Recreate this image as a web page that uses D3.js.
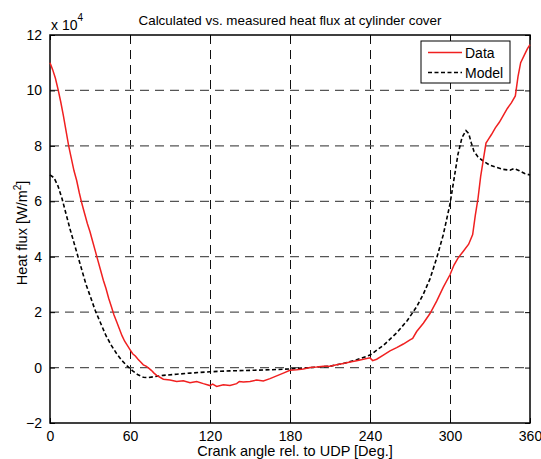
<!DOCTYPE html>
<html>
<head>
<meta charset="utf-8">
<script src="https://cdn.jsdelivr.net/npm/d3@7"></script>
<style>
  body { margin: 0; background: #fff; }
  text { font-family: "Liberation Sans", Arial, sans-serif; fill: #000; }
</style>
</head>
<body>
<div id="container"></div>
<script>
// values in units of 1e4 W/m^2
let dataAngle = [0, 2, 4, 6, 8, 10, 12, 14, 16, 18, 20, 22, 24, 26, 28, 30, 32, 34, 36, 38, 40, 42, 44, 46, 48, 50, 52, 54, 56, 58, 60, 62, 64, 66, 68, 70, 72, 74, 76, 78, 80, 85, 90, 95, 100, 105, 110, 115, 120, 122, 125, 130, 135, 140, 142, 145, 150, 155, 160, 165, 170, 175, 180, 185, 190, 195, 200, 205, 210, 215, 220, 225, 230, 235, 240, 242, 245, 250, 255, 260, 265, 270, 272, 275, 280, 285, 290, 295, 300, 303, 306, 310, 314, 317, 319, 321, 323, 325, 327, 329, 331, 334, 337, 340, 343, 346, 349, 351, 353, 356, 358, 360];
let dataFlux = [11.0, 10.75, 10.45, 10.05, 9.6, 9.1, 8.55, 8.0, 7.55, 7.1, 6.75, 6.3, 5.9, 5.55, 5.2, 4.9, 4.55, 4.2, 3.85, 3.5, 3.15, 2.85, 2.5, 2.2, 1.9, 1.65, 1.4, 1.15, 0.95, 0.8, 0.65, 0.5, 0.42, 0.3, 0.2, 0.1, 0.05, -0.02, -0.1, -0.2, -0.28, -0.42, -0.45, -0.5, -0.48, -0.55, -0.5, -0.58, -0.65, -0.6, -0.68, -0.62, -0.65, -0.58, -0.5, -0.52, -0.5, -0.45, -0.48, -0.4, -0.3, -0.2, -0.1, -0.08, -0.05, 0.0, 0.02, 0.05, 0.05, 0.1, 0.15, 0.2, 0.25, 0.3, 0.35, 0.25, 0.3, 0.45, 0.6, 0.72, 0.85, 1.0, 1.05, 1.3, 1.6, 1.95, 2.4, 2.9, 3.35, 3.7, 3.95, 4.2, 4.45, 4.8, 5.5, 6.1, 6.9, 7.5, 8.1, 8.25, 8.4, 8.65, 8.85, 9.1, 9.35, 9.55, 9.8, 10.5, 11.0, 11.3, 11.5, 11.65];

let modelAngle = [0, 3, 6, 9, 12, 15, 18, 21, 24, 27, 30, 34, 38, 42, 46, 50, 54, 58, 62, 66, 70, 74, 78, 85, 95, 105, 120, 135, 150, 165, 180, 195, 210, 220, 230, 240, 250, 260, 268, 275, 280, 285, 290, 295, 300, 303, 306, 309, 312, 314, 316, 318, 321, 325, 330, 335, 340, 345, 348, 352, 356, 360];
let modelFlux = [6.95, 6.85, 6.55, 6.1, 5.55, 5.0, 4.5, 4.0, 3.5, 3.0, 2.6, 2.05, 1.6, 1.15, 0.8, 0.5, 0.25, 0.05, -0.12, -0.26, -0.35, -0.36, -0.33, -0.28, -0.24, -0.2, -0.15, -0.12, -0.1, -0.08, -0.05, 0.0, 0.05, 0.15, 0.28, 0.45, 0.8, 1.25, 1.7, 2.2, 2.65, 3.2, 3.95, 4.8, 5.9, 6.8, 7.7, 8.3, 8.55, 8.45, 8.1, 7.8, 7.6, 7.45, 7.3, 7.22, 7.15, 7.12, 7.18, 7.1, 7.0, 6.95];

let xTicks = [0, 60, 120, 180, 240, 300, 360];
let yTicks = [-2, 0, 2, 4, 6, 8, 10, 12];

let width = 541;
let height = 459;
let plotLeft = 50, plotRight = 530, plotTop = 35, plotBottom = 423;

let svg = d3.select('#container')
    .append("svg")
    .attr("width", width)
    .attr("height", height)

let x = d3.scaleLinear().domain([0, 360]).range([plotLeft, plotRight]);
let y = d3.scaleLinear().domain([-2, 12]).range([plotBottom, plotTop]);

//grid
svg.selectAll(".vgrid")
    .data(xTicks.slice(1, -1))
    .enter()
    .append("line")
    .attr("x1", d => Math.round(x(d)) + 0.5)
    .attr("x2", d => Math.round(x(d)) + 0.5)
    .attr("y1", plotTop)
    .attr("y2", plotBottom)
    .attr("stroke", "#111")
    .attr("stroke-dasharray", "9,6")

svg.selectAll(".hgrid")
    .data(yTicks.slice(1, -1))
    .enter()
    .append("line")
    .attr("x1", plotLeft)
    .attr("x2", plotRight)
    .attr("y1", d => y(d))
    .attr("y2", d => y(d))
    .attr("stroke", "#555")
    .attr("stroke-width", 1.2)
    .attr("stroke-dasharray", "9,6")

//axes
let xAxis = d3.axisBottom(x).tickValues(xTicks).tickSizeInner(-5).tickSizeOuter(0).tickPadding(8);
let yAxis = d3.axisLeft(y).tickValues(yTicks).tickSizeInner(-5).tickSizeOuter(0).tickPadding(8);

svg.append("g").attr("transform", `translate(0,${plotBottom})`).call(xAxis);
svg.append("g").attr("transform", `translate(${plotLeft},0)`).call(yAxis);
svg.append("g").attr("transform", `translate(0,${plotTop})`)
    .call(d3.axisTop(x).tickValues(xTicks).tickSizeInner(-5).tickSizeOuter(0).tickFormat(""));
svg.append("g").attr("transform", `translate(${plotRight},0)`)
    .call(d3.axisRight(y).tickValues(yTicks).tickSizeInner(-5).tickSizeOuter(0).tickFormat(""));

svg.selectAll(".domain").remove();
svg.selectAll(".tick line").attr("stroke", "#000");
svg.selectAll(".tick text")
    .style("font-family", '"Liberation Sans", Arial, sans-serif')
    .style("font-size", "14px")
    .attr("fill", "#000");

svg.append("rect")
    .attr("x", plotLeft)
    .attr("y", plotTop)
    .attr("width", plotRight - plotLeft)
    .attr("height", plotBottom - plotTop)
    .attr("fill", "none")
    .attr("stroke", "#000")
    .attr("stroke-width", 1.5)

//lines
let line = d3.line().x(d => x(d[0])).y(d => y(d[1]));

svg.append("path")
    .datum(modelAngle.map((a, i) => [a, modelFlux[i]]))
    .attr("d", line)
    .attr("fill", "none")
    .attr("stroke", "#000")
    .attr("stroke-width", 1.6)
    .attr("stroke-dasharray", "4,2.5")

svg.append("path")
    .datum(dataAngle.map((a, i) => [a, dataFlux[i]]))
    .attr("d", line)
    .attr("fill", "none")
    .attr("stroke", "#f02020")
    .attr("stroke-width", 1.5)

//legend
let lg = svg.append("g")
lg.append("rect")
    .attr("x", 421).attr("y", 41).attr("width", 89).attr("height", 42)
    .attr("fill", "#fff").attr("stroke", "#000")
lg.append("line")
    .attr("x1", 428).attr("x2", 462).attr("y1", 52.5).attr("y2", 52.5)
    .attr("stroke", "#f02020").attr("stroke-width", 1.5)
lg.append("line")
    .attr("x1", 428).attr("x2", 462).attr("y1", 72.5).attr("y2", 72.5)
    .attr("stroke", "#000").attr("stroke-width", 1.6).attr("stroke-dasharray", "4,2.5")
lg.append("text").attr("x", 465).attr("y", 57.5).style("font-size", "14px").text("Data")
lg.append("text").attr("x", 465).attr("y", 77.5).style("font-size", "14px").text("Model")

//texts
svg.append("text")
    .attr("x", 290).attr("y", 25)
    .attr("text-anchor", "middle")
    .style("font-size", "13.4px")
    .text("Calculated vs. measured heat flux at cylinder cover")

let mult = svg.append("text").attr("x", 51).attr("y", 30).style("font-size", "14px")
mult.append("tspan").text("x 10")
mult.append("tspan").attr("dy", -9).style("font-size", "10px").text("4")

svg.append("text")
    .attr("x", 295).attr("y", 456)
    .attr("text-anchor", "middle")
    .style("font-size", "14.5px")
    .text("Crank angle rel. to UDP [Deg.]")

let yl = svg.append("text")
    .attr("transform", "translate(27,233) rotate(-90)")
    .attr("text-anchor", "middle")
    .style("font-size", "14.5px")
yl.append("tspan").text("Heat flux [W/m")
yl.append("tspan").attr("dy", -6).style("font-size", "10px").text("2")
yl.append("tspan").attr("dy", 6).text("]")
</script>
</body>
</html>
